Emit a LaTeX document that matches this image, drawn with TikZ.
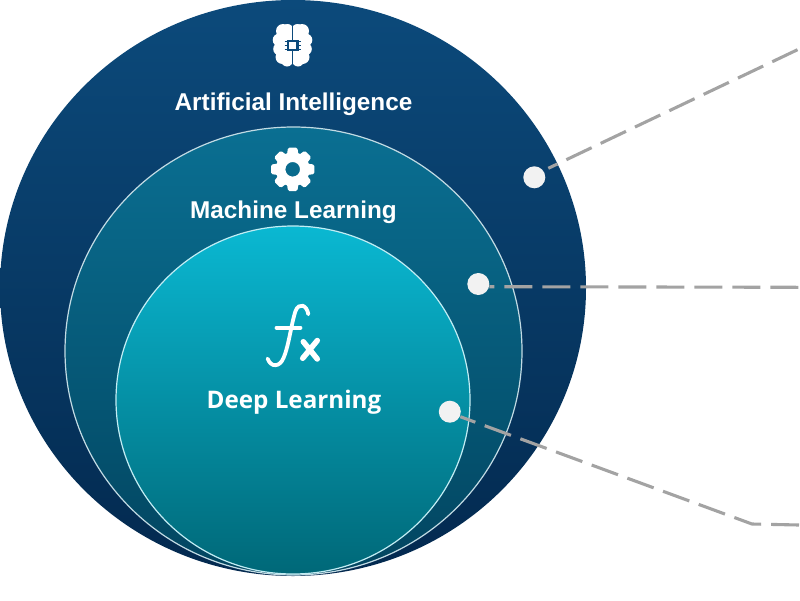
\documentclass[tikz,border=0pt]{standalone}
\usepackage{fontspec}
\setmainfont{Liberation Sans}
\newfontfamily\deepfont{Open Sans}
\usetikzlibrary{calc,shapes.geometric}
\definecolor{aitop}{HTML}{0C4A7B}
\definecolor{aibot}{HTML}{03294F}
\definecolor{mltop}{HTML}{0A6F92}
\definecolor{mlbot}{HTML}{024560}
\definecolor{dltop}{HTML}{0AB8D2}
\definecolor{dlbot}{HTML}{006878}
\definecolor{leader}{HTML}{A3A3A3}
\tikzset{
  ring/.style={ellipse,inner sep=0pt,outer sep=0pt},
  title/.style={text=white,font=\fontsize{24.3}{28}\selectfont\bfseries},
  spot/.style={circle,fill=white!95!black,inner sep=0pt,outer sep=0pt,minimum size=22pt},
  leadline/.style={draw=leader,line width=3.1pt,dash pattern=on 28pt off 10pt}
}
\begin{document}
\begin{tikzpicture}[x=1pt,y=-1pt]
\useasboundingbox (0,0) rectangle (800,600);
\node[ring,minimum width=586pt,minimum height=576pt,top color=aitop,bottom color=aibot] (ai) at (293,288) {};
\node[ring,minimum width=457pt,minimum height=448pt,top color=mltop,bottom color=mlbot,draw=white!75!mltop,line width=1.2pt] (ml) at (293.5,351) {};
\node[ring,minimum width=354pt,minimum height=348pt,top color=dltop,bottom color=dlbot,draw=white!75!dltop,line width=1.2pt] (dl) at (293,400) {};
%
\node[title] (ailabel) at (293.5,104) {Artificial Intelligence};
\node[title] (mllabel) at (293.5,212) {Machine Learning};
\node[title,font=\deepfont\fontsize{24.2}{28}\selectfont\bfseries] (dllabel) at (294,402) {Deep Learning};
%
% brain
\foreach \dx/\py/\pr in {5/30/6,9.5/31/7,13.5/40/6.3,13/49/6.3,10/57/7,5.5/60.5/6}
  \fill[white] (292.5-\dx,\py) circle[radius=\pr] (292.5+\dx,\py) circle[radius=\pr];
\fill[white] (281,28) rectangle (304,62);
\draw[aitop,line width=1.5pt] (292.5,23) -- (292.5,67);
\fill[aitop] (286.5,39.5) rectangle (298.5,51);
\foreach \py in {41.5,45.5,49.5}
  \draw[aitop,line width=1pt] (284.5,\py) -- (300.5,\py);
\fill[white] (289.3,42) rectangle (295.8,48.7);
%
% gear
\foreach \a in {0,45,...,315}
  \fill[white,rounded corners=1.5pt,rotate around={\a:(292.7,169.3)}] (286.5,158) -- (288,147.6) -- (297.4,147.6) -- (298.9,158) -- cycle;
\fill[white,even odd rule] (292.7,169.3) circle[radius=17] (292.7,169.3) circle[radius=7.3];
%
% fx
\draw[white,line width=3.8pt,line cap=round] (308.3,314.3) .. controls (307,305) and (299,302) .. (295.5,311)
  .. controls (291,325) and (289,345) .. (283.5,358) .. controls (280,367) and (271,368) .. (267.5,358.5);
\draw[white,line width=3.8pt,line cap=round] (276.5,327.7) -- (300.5,327.7);
\draw[white,line width=5.5pt,line cap=round] (303.3,341.7) -- (317.3,359) (317.3,340.5) -- (302.7,358.3);
%
\node[spot] (aispot) at (534.3,177.3) {};
\node[spot] (mlspot) at (478.3,284) {};
\node[spot] (dlspot) at (449.8,411.7) {};
\coordinate (aiend) at (799,49);
\coordinate (mlend) at (799,287.3);
\coordinate (dlbend) at (752,524);
\coordinate (dlend) at (799,525);
\draw[leadline,dash phase=18pt] ($(aispot)+(14,-9)$) -- (aiend);
\draw[leadline,dash phase=23pt] ($(mlspot)+(11,2.7)$) -- (mlend);
\draw[leadline,dash phase=12pt] ($(dlspot)+(10.5,5)$) -- (dlbend) -- (dlend);
\end{tikzpicture}
\end{document}
